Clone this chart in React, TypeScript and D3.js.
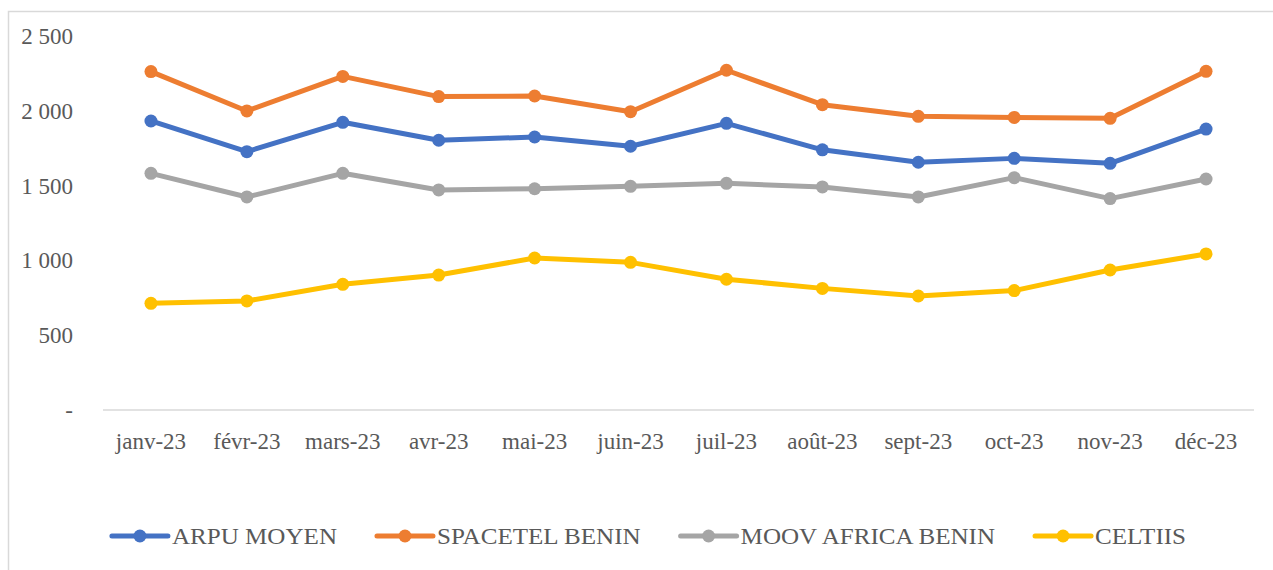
import { useEffect, useRef } from 'react';
import * as d3 from 'd3';

// months on the x axis
const months = ['janv-23', 'févr-23', 'mars-23', 'avr-23', 'mai-23', 'juin-23', 'juil-23', 'août-23', 'sept-23', 'oct-23', 'nov-23', 'déc-23'];

// ARPU per operator
const arpuMoyen = [1932, 1727, 1923, 1803, 1825, 1763, 1916, 1739, 1656, 1682, 1649, 1878];
const spacetel = [2262, 1999, 2230, 2095, 2099, 1994, 2271, 2041, 1963, 1956, 1950, 2264];
const moov = [1582, 1424, 1582, 1471, 1479, 1495, 1515, 1491, 1424, 1553, 1413, 1544];
const celtiis = [713, 729, 840, 902, 1016, 987, 874, 813, 762, 798, 936, 1043];

const seriesNames = ['ARPU MOYEN', 'SPACETEL BENIN', 'MOOV AFRICA BENIN', 'CELTIIS'];
const seriesColors = ['#4472C4', '#ED7D31', '#A5A5A5', '#FFC000'];
const yTicks = [0, 500, 1000, 1500, 2000, 2500];

const FONT = '"Liberation Serif", "Times New Roman", serif';

const App = () => {
    const svgRef = useRef<SVGSVGElement>(null);

    useEffect(() => {
        const W = 1273;
        const H = 570;
        const svg = d3.select(svgRef.current).attr('width', W).attr('height', H);
        svg.selectAll('*').remove();

        // outer chart frame (right and bottom edges fall outside the view)
        svg.append('rect')
            .attr('x', 8.5).attr('y', 11.5)
            .attr('width', W + 20).attr('height', H + 20)
            .attr('fill', 'white')
            .attr('stroke', '#d9d9d9').attr('stroke-width', 1.5);

        const plot = { left: 103, right: 1254, top: 36, bottom: 410 };

        const x = d3.scaleBand().domain(months).range([plot.left, plot.right]);
        const cx = (m: string) => (x(m) as number) + x.bandwidth() / 2;
        const y = d3.scaleLinear().domain([0, 2500]).range([plot.bottom, plot.top]);

        // baseline
        svg.append('line')
            .attr('x1', plot.left).attr('x2', plot.right)
            .attr('y1', y(0)).attr('y2', y(0))
            .attr('stroke', '#d9d9d9').attr('stroke-width', 1.5);

        // y tick labels
        const fmt = (v: number) => (v === 0 ? '-' : d3.format(',')(v).replace(/,/g, ' '));
        svg.append('g').selectAll('text')
            .data(yTicks)
            .enter().append('text')
            .attr('x', 73)
            .attr('y', (d) => y(d) + 8)
            .attr('text-anchor', 'end')
            .style('font-family', FONT)
            .style('font-size', '23px')
            .style('fill', '#595959')
            .text(fmt);

        // x tick labels
        svg.append('g').selectAll('text')
            .data(months)
            .enter().append('text')
            .attr('x', (d) => cx(d))
            .attr('y', plot.bottom + 39)
            .attr('text-anchor', 'middle')
            .style('font-family', FONT)
            .style('font-size', '23px')
            .style('fill', '#595959')
            .text((d) => d);

        const allSeries = [arpuMoyen, spacetel, moov, celtiis];

        const line = d3.line<number>()
            .x((_, i) => cx(months[i]))
            .y((d) => y(d));

        allSeries.forEach((values, k) => {
            svg.append('path')
                .datum(values)
                .attr('fill', 'none')
                .attr('stroke', seriesColors[k])
                .attr('stroke-width', 5)
                .attr('stroke-linejoin', 'round')
                .attr('d', line);

            svg.append('g').selectAll('circle')
                .data(values)
                .enter().append('circle')
                .attr('cx', (_, i) => cx(months[i]))
                .attr('cy', (d) => y(d))
                .attr('r', 6.5)
                .attr('fill', seriesColors[k]);
        });

        // legend: measure labels, then lay out centred
        const legendY = 536;
        const lineLen = 56;
        const textGap = 4;
        const itemGap = 40;
        const stretch = 1.09; // the original face is a bit wider than Liberation Serif

        const legend = svg.append('g');
        const items = legend.selectAll('g')
            .data(seriesNames)
            .enter().append('g');

        items.append('line')
            .attr('x1', 0).attr('x2', lineLen)
            .attr('y1', legendY).attr('y2', legendY)
            .attr('stroke', (_, i) => seriesColors[i])
            .attr('stroke-width', 5)
            .attr('stroke-linecap', 'round');

        items.append('circle')
            .attr('cx', lineLen / 2).attr('cy', legendY)
            .attr('r', 6.5)
            .attr('fill', (_, i) => seriesColors[i]);

        const labels = items.append('text')
            .attr('x', lineLen + textGap)
            .attr('y', legendY + 8)
            .style('font-family', FONT)
            .style('font-size', '23px')
            .style('fill', '#595959')
            .text((d) => d);

        const widths: number[] = [];
        labels.each(function () {
            const w = (this as SVGTextElement).getComputedTextLength() * stretch;
            widths.push(w);
            d3.select(this).attr('textLength', w).attr('lengthAdjust', 'spacingAndGlyphs');
        });

        const itemW = widths.map((w) => lineLen + textGap + w);
        const total = d3.sum(itemW) + itemGap * (itemW.length - 1);
        let pos = 649 - total / 2;
        items.each(function (_, i) {
            d3.select(this).attr('transform', `translate(${pos},0)`);
            pos += itemW[i] + itemGap;
        });
    }, []);

    return (
        <div style={{ position: 'absolute', left: 0, top: 0 }}>
            <svg ref={svgRef} style={{ display: 'block' }}></svg>
        </div>
    );
};

export default App;
